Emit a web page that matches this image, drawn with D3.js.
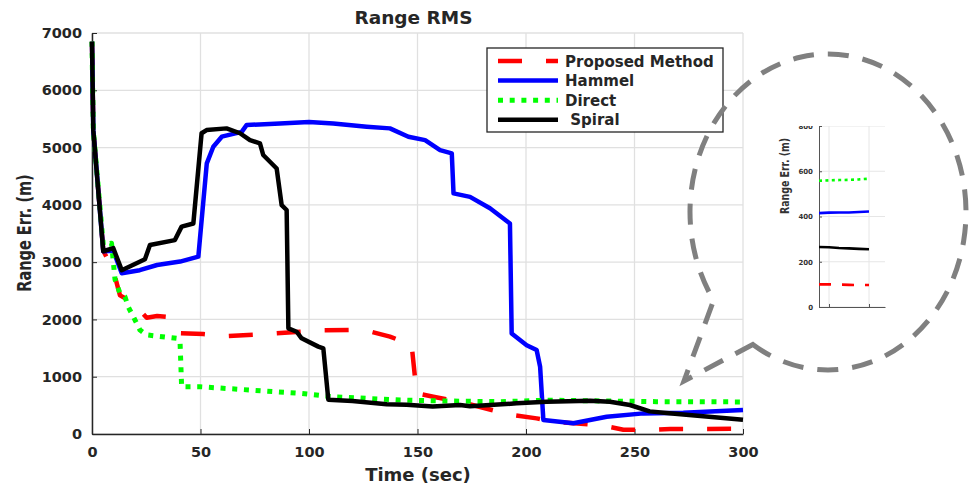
<!DOCTYPE html>
<html>
<head>
<meta charset="utf-8">
<script src="https://cdn.jsdelivr.net/npm/d3@7"></script>
<style>
body { margin: 0; background: #fff; }
text { font-family: "DejaVu Sans", sans-serif; font-weight: bold; fill: #262626; }
</style>
</head>
<body>
<svg id="chart" width="972" height="488"></svg>
<script>
// series: [time (sec), range error (m)]
var proposed = [[0,6850],[0.6,5300],[5.2,3200],[9.8,2860],[12.9,2420],[16.7,2340],[19,2290],[25.2,2030],[30,2060],[35.9,2040],[40.6,1760],[51.3,1745],[62,1710],[80.5,1745],[95.9,1785],[105.8,1810],[118.9,1815],[128.1,1790],[137.3,1700],[147.3,1555],[149.6,710],[157.3,650],[165,593],[169.6,564],[184.2,419],[193.4,332],[204.9,273],[212.5,215],[234,157],[244.9,75],[254.1,70],[266.4,87],[300,90]];
var hammel = [[0,6850],[0.6,5300],[5.2,3190],[9.8,3200],[13.7,2805],[22,2860],[30,2950],[40.6,3010],[49,3095],[52.9,4725],[55.9,5015],[59.8,5190],[69,5275],[71.3,5395],[86.6,5420],[100,5445],[111.2,5420],[126.6,5365],[137.3,5335],[145.8,5190],[153.5,5130],[160.4,4955],[165.8,4900],[166.6,4200],[174.2,4140],[183.4,3940],[192.6,3675],[193.4,1755],[200.3,1550],[204.9,1465],[206.5,1175],[208,245],[221.8,187],[229.5,244],[237.2,302],[254.1,360],[272.5,372],[300,419]];
var direct = [[0,6850],[0.6,5300],[5.2,3300],[9,3330],[10.6,2700],[12.9,2455],[15.2,2395],[16.7,2220],[20.6,1930],[22.1,1815],[25.2,1730],[39,1670],[40.6,1580],[41.3,825],[49.8,825],[95.9,710],[111.2,650],[142,593],[165,575],[188,564],[210,590],[230,580],[260,565],[300,560]];
var spiral = [[0,6850],[0.6,5300],[5.2,3190],[9.8,3245],[13.7,2860],[24.4,3050],[26.7,3300],[38.2,3385],[41.3,3620],[46.7,3675],[50.5,5250],[52.8,5305],[62,5335],[68.2,5250],[72.8,5130],[77.4,5075],[78.9,4870],[85.1,4635],[87.4,3995],[89.7,3910],[90.5,1845],[94.3,1785],[96.6,1670],[104.3,1525],[106.6,1495],[108.9,600],[120,575],[135.8,520],[145,510],[157,480],[169.6,506],[174.2,485],[195.7,535],[209.5,564],[229.5,581],[238.7,564],[247.9,506],[257,395],[266,361],[284.3,302],[300,250]];

var legendLabels = ["Proposed Method", "Hammel", "Direct", " Spiral"];
var xTicks = [0, 50, 100, 150, 200, 250, 300];
var yTicks = [0, 1000, 2000, 3000, 4000, 5000, 6000, 7000];

// zoomed inset (end of the run)
var insetTime = [287.5, 290, 292.5, 295, 297.5, 300];
var insetProposed = [100, 100, 99, 98, 97, 97];
var insetHammel = [415, 417, 418, 418, 420, 422];
var insetDirect = [558, 560, 561, 562, 564, 567];
var insetSpiral = [265, 264, 261, 259, 257, 255];
var insetXTicks = [290, 300];
var insetYTicks = [0, 200, 400, 600, 800];

var svg = d3.select("#chart");
svg.append("rect").attr("width", 972).attr("height", 488).attr("fill", "#fff");

var x = d3.scaleLinear().domain([0, 300]).range([92, 743]);
var y = d3.scaleLinear().domain([0, 7000]).range([434, 33]);

// grid
var grid = svg.append("g").attr("stroke", "#e0e0e0").attr("stroke-width", 1.3);
grid.selectAll(".gx").data(xTicks).enter().append("line")
    .attr("x1", d => x(d)).attr("x2", d => x(d)).attr("y1", y(0)).attr("y2", y(7000));
grid.selectAll(".gy").data(yTicks).enter().append("line")
    .attr("x1", x(0)).attr("x2", x(300)).attr("y1", d => y(d)).attr("y2", d => y(d));

// axes
var xAxis = svg.append("g").attr("transform", "translate(0," + y(0) + ")")
    .call(d3.axisBottom(x).tickValues(xTicks).tickFormat(d3.format("d"))
        .tickSizeInner(-5).tickSizeOuter(0).tickPadding(13));
var yAxis = svg.append("g").attr("transform", "translate(" + x(0) + ",0)")
    .call(d3.axisLeft(y).tickValues(yTicks).tickFormat(d3.format("d"))
        .tickSizeInner(-5).tickSizeOuter(0).tickPadding(10));
[xAxis, yAxis].forEach(function (a) {
    a.attr("color", "#262626").attr("font-size", 14.5)
        .attr("font-family", "DejaVu Sans").attr("font-weight", "bold");
    a.select(".domain").attr("stroke-width", 1.5);
});

// series
var line = d3.line().x(d => x(d[0])).y(d => y(d[1]));
var series = [
    { data: proposed, color: "#ff0000", dash: "24,24", width: 4.5 },
    { data: hammel, color: "#0000ff", dash: null, width: 4.5 },
    { data: direct, color: "#00ff00", dash: "5,6.7", width: 5 },
    { data: spiral, color: "#000000", dash: null, width: 4.5 }
];
svg.append("g").selectAll("path").data(series).enter().append("path")
    .attr("d", s => line(s.data))
    .attr("fill", "none")
    .attr("stroke", s => s.color)
    .attr("stroke-width", s => s.width)
    .attr("stroke-dasharray", s => s.dash)
    .attr("stroke-linejoin", "round");

// titles
svg.append("text").attr("x", 413.5).attr("y", 24).attr("text-anchor", "middle")
    .attr("font-size", 18.5).text("Range RMS");
svg.append("text").attr("x", 418).attr("y", 481).attr("text-anchor", "middle")
    .attr("font-size", 18).text("Time (sec)");
svg.append("text").attr("transform", "translate(31,233) scale(1.3,1) rotate(-90)")
    .attr("text-anchor", "middle").attr("font-size", 14.5).text("Range Err. (m)");

// legend
var legend = svg.append("g");
legend.append("rect").attr("x", 487).attr("y", 48).attr("width", 236).attr("height", 84)
    .attr("fill", "#fff").attr("stroke", "#262626").attr("stroke-width", 1.3);
var rows = legend.selectAll(".row").data(series).enter().append("g")
    .attr("transform", (s, i) => "translate(0," + (61 + i * 19.6) + ")");
rows.append("line").attr("x1", 498).attr("x2", 558)
    .attr("stroke", s => s.color).attr("stroke-width", s => s.width)
    .attr("stroke-dasharray", s => s.dash);
rows.append("text").attr("x", 565).attr("y", 5.5).attr("font-size", 15)
    .style("white-space", "pre").text((s, i) => legendLabels[i]);

// magnifier callout
var cx = 828, cy = 212, rx = 138, ry = 158;
function ellPt(a) {
    var r = a * Math.PI / 180;
    return [cx + rx * Math.cos(r), cy + ry * Math.sin(r)];
}
var p1 = ellPt(123), p2 = ellPt(146);
svg.append("path")
    .attr("d", "M" + p1 + " A" + rx + "," + ry + " 0 1 0 " + p2 + " L684,381 Z")
    .attr("fill", "none").attr("stroke", "#808080").attr("stroke-width", 5)
    .attr("stroke-dasharray", "21,14");

// inset axes
svg.append("clipPath").attr("id", "insetClip").append("rect")
    .attr("x", 760).attr("y", 126).attr("width", 140).attr("height", 200);
var inset = svg.append("g").attr("clip-path", "url(#insetClip)");
var ix = d3.scaleLinear().domain([287.5, 304]).range([819, 885]);
var iy = d3.scaleLinear().domain([0, 800]).range([307, 126]);

inset.selectAll(".igy").data(insetYTicks).enter().append("line")
    .attr("x1", ix(287.5)).attr("x2", ix(304)).attr("y1", d => iy(d)).attr("y2", d => iy(d))
    .attr("stroke", "#e6e6e6").attr("stroke-width", 1);
inset.selectAll(".igx").data(insetXTicks).enter().append("line")
    .attr("x1", d => ix(d)).attr("x2", d => ix(d)).attr("y1", iy(0)).attr("y2", iy(800))
    .attr("stroke", "#e6e6e6").attr("stroke-width", 1);

var ixAxis = inset.append("g").attr("transform", "translate(0," + iy(0) + ")")
    .call(d3.axisBottom(ix).tickValues(insetXTicks).tickFormat("").tickSizeInner(-3).tickSizeOuter(0));
var iyAxis = inset.append("g").attr("transform", "translate(" + ix(287.5) + ",0)")
    .call(d3.axisLeft(iy).tickValues(insetYTicks).tickSizeInner(-3).tickSizeOuter(0).tickPadding(6));
[ixAxis, iyAxis].forEach(function (a) {
    a.attr("color", "#555").attr("font-size", 7)
        .attr("font-family", "DejaVu Sans").attr("font-weight", "bold");
});
iyAxis.selectAll("text").style("fill", "#333");

var insetSeries = [
    { data: insetProposed, color: "#ff0000", dash: "12,11" },
    { data: insetHammel, color: "#0000ff", dash: null },
    { data: insetDirect, color: "#00ff00", dash: "3,3.4" },
    { data: insetSpiral, color: "#000000", dash: null }
];
var iline = d3.line().x((d, i) => ix(insetTime[i])).y(d => iy(d));
inset.selectAll(".iser").data(insetSeries).enter().append("path")
    .attr("d", s => iline(s.data))
    .attr("fill", "none").attr("stroke", s => s.color).attr("stroke-width", 2.6)
    .attr("stroke-dasharray", s => s.dash);

svg.append("text").attr("transform", "translate(789,176) scale(1.3,1) rotate(-90)")
    .attr("text-anchor", "middle").attr("font-size", 9.4).style("fill", "#333")
    .text("Range Err. (m)");
</script>
</body>
</html>
